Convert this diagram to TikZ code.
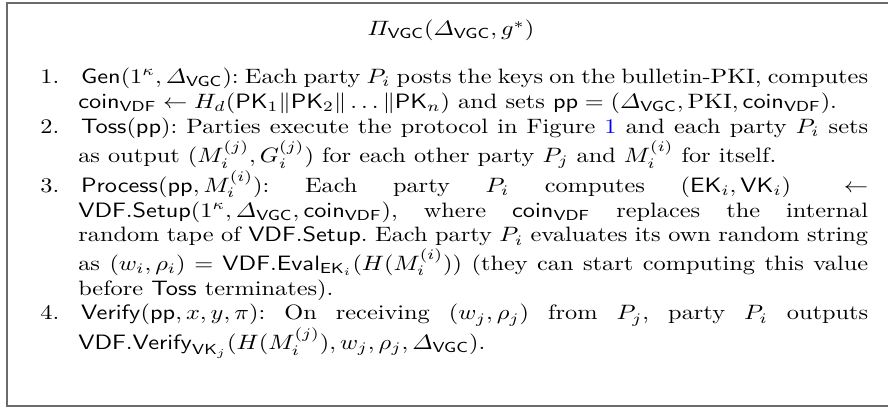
\documentclass[tikz,border=0pt]{standalone}
\usepackage{amsmath}
\usepackage{graphicx}
\usepackage{xcolor}
\newcommand{\sfn}[1]{\mathsf{#1}}
\newcommand{\vgc}{\sfn{VGC}}
\newcommand{\coin}{\sfn{coin}_{\sfn{VDF}}}
% horizontally widened text block
\newcommand{\wide}[1]{\scalebox{1.17}[1]{#1}}
\tikzset{
  frame/.style={draw=black!58, line width=0.7pt},
  titletext/.style={inner sep=0pt, anchor=base, font=\normalsize},
  bodytext/.style={inner sep=0pt, anchor=north west, font=\normalsize}
}
\begin{document}
\begin{tikzpicture}[x=1pt,y=1pt]
  \useasboundingbox (0,0) rectangle (427,196.6);
  % frame: its right side lies past the page edge
  \coordinate (tr) at (427,195.2);
  \coordinate (tl) at (3.4,195.2);
  \coordinate (bl) at (3.4,1.3);
  \coordinate (br) at (427,1.3);
  \draw[frame] (tr) -- (tl) -- (bl) -- (br);
  % heading
  \node[titletext] (title) at (216.8,179.5) {\wide{$\varPi_{\vgc}(\varDelta_{\vgc}, g^*)$}};
  % protocol steps
  \node[bodytext] (steps) at (19.2,165.1) {\wide{\begin{minipage}[t]{340.2pt}\frenchspacing
    \begin{list}{\arabic{enumi}.}{\usecounter{enumi}%
      \setlength{\leftmargin}{15.6pt}\setlength{\labelsep}{9.0pt}%
      \setlength{\labelwidth}{6.6pt}\setlength{\itemsep}{0pt}%
      \setlength{\parsep}{0pt}\setlength{\topsep}{0pt}\setlength{\partopsep}{0pt}}
    \item \strut$\sfn{Gen}(1^\kappa, \varDelta_{\vgc})$: Each party $P_i$ posts the keys on the bulletin-PKI, computes $\coin \leftarrow H_d(\sfn{PK}_1\|\sfn{PK}_2\|\ldots\|\sfn{PK}_n)$ and sets $\sfn{pp} = (\varDelta_{\vgc}, \mathrm{PKI}, \coin)$.
    \item $\sfn{Toss}(\sfn{pp})$: Parties execute the protocol in Figure {\color{blue}1} and each party $P_i$ sets as output $(M_i^{(j)}, G_i^{(j)})$ for each other party $P_j$ and $M_i^{(i)}$ for itself.
    \item $\sfn{Process}(\sfn{pp}, M_i^{(i)})$: Each party $P_i$ computes $(\sfn{EK}_i, \sfn{VK}_i) \leftarrow \sfn{VDF.Setup}(1^\kappa, \varDelta_{\vgc}, \coin)$, where $\coin$ replaces the internal random tape of $\sfn{VDF.Setup}$. Each party $P_i$ evaluates its own random string as $(w_i, \rho_i) = \sfn{VDF.Eval}_{\sfn{EK}_i}(H(M_i^{(i)}))$ (they can start computing this value before $\sfn{Toss}$ terminates).
    \item $\sfn{Verify}(\sfn{pp}, x, y, \pi)$: On receiving $(w_j, \rho_j)$ from $P_j$, party $P_i$ outputs $\sfn{VDF.Verify}_{\sfn{VK}_j}(H(M_i^{(j)}), w_j, \rho_j, \varDelta_{\vgc})$.
    \end{list}\end{minipage}}};
\end{tikzpicture}
\end{document}
